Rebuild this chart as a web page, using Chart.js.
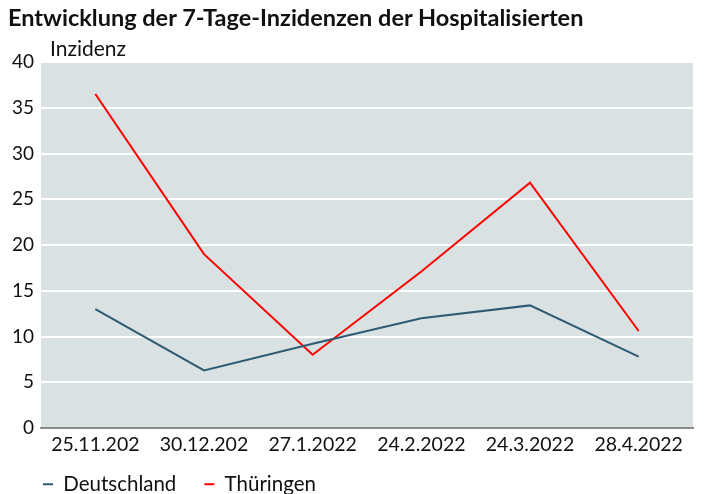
<!DOCTYPE html>
<html>
<head>
<meta charset="utf-8">
<script src="https://cdn.jsdelivr.net/npm/chart.js@4.4.0/dist/chart.umd.min.js"></script>
<style>
  html, body { margin: 0; padding: 0; background: #fff; }
  #wrap { position: relative; width: 705px; height: 494px; }
  #title { position: absolute; left: 8px; top: 3px; font: bold 23.5px Lato, sans-serif; color: #111; white-space: nowrap; }
  #ytitle { position: absolute; left: 50px; top: 35px; font: 21px Lato, sans-serif; color: #111; }
  canvas { position: absolute; left: 0; top: 0; }
</style>
</head>
<body>
<div id="wrap">
  <canvas id="chart" width="705" height="494"></canvas>
  <div id="title">Entwicklung der 7-Tage-Inzidenzen der Hospitalisierten</div>
  <div id="ytitle">Inzidenz</div>
</div>
<script>
const labels = ['25.11.202', '30.12.202', '27.1.2022', '24.2.2022', '24.3.2022', '28.4.2022'];
const deutschland = [13.0, 6.3, 9.2, 12.0, 13.4, 7.8];
const thueringen = [36.5, 19.0, 8.0, 17.1, 26.8, 10.6];

const plotBg = {
  id: 'plotBg',
  beforeDraw(chart) {
    const { ctx, chartArea } = chart;
    ctx.save();
    ctx.fillStyle = '#d9e1e3';
    ctx.fillRect(chartArea.left, chartArea.top, chartArea.right - chartArea.left, chartArea.bottom - chartArea.top);
    ctx.restore();
  },
};

// legend padding is large (for item spacing), so place the box by hand
const legendShift = {
  id: 'legendShift',
  afterLayout(chart) {
    const lg = chart.legend;
    const dx = 15 - lg.left;
    lg.left += dx;
    lg.right += dx;
    lg.top = 446;
    lg.bottom = 500;
  },
};

const ctx = document.getElementById('chart');
new Chart(ctx, {
  type: 'line',
  data: {
    labels: labels,
    datasets: [
      {
        label: 'Deutschland',
        data: deutschland,
        borderColor: '#2e5a73',
        backgroundColor: '#2e5a73',
        borderWidth: 2,
        pointRadius: 0,
        tension: 0,
      },
      {
        label: 'Thüringen',
        data: thueringen,
        borderColor: '#ff0000',
        backgroundColor: '#ff0000',
        borderWidth: 2,
        pointRadius: 0,
        tension: 0,
      },
    ],
  },
  options: {
    responsive: false,
    animation: false,
    layout: {
      padding: { top: 62, right: 12, left: 0, bottom: 0 },
    },
    scales: {
      x: {
        offset: true,
        grid: { display: false, drawTicks: false, offset: true },
        border: { display: true, color: '#8a8a8a', width: 2 },
        ticks: {
          color: '#111',
          padding: 5,
          maxRotation: 0,
          autoSkip: false,
          font: { family: 'Lato', size: 19.5 },
        },
        afterFit(scale) {
          scale.height = 28;
        },
      },
      y: {
        min: 0,
        max: 40,
        grid: {
          color: (c) => (c.tick && c.tick.value === 0 ? 'rgba(0,0,0,0)' : '#ffffff'),
          lineWidth: 2,
          drawTicks: false,
        },
        border: { display: false },
        ticks: {
          stepSize: 5,
          color: '#111',
          padding: 7,
          font: { family: 'Lato', size: 19 },
        },
        afterFit(scale) {
          scale.width = 41;
        },
      },
    },
    plugins: {
      legend: {
        position: 'bottom',
        align: 'start',
        maxHeight: 38,
        labels: {
          usePointStyle: true,
          pointStyle: 'line',
          pointStyleWidth: 10,
          boxWidth: 10,
          boxHeight: 10,
          padding: 28,
          color: '#111',
          font: { family: 'Lato', size: 20.5 },
        },
      },
      tooltip: { enabled: false },
    },
  },
  plugins: [plotBg, legendShift],
});
</script>
</body>
</html>
